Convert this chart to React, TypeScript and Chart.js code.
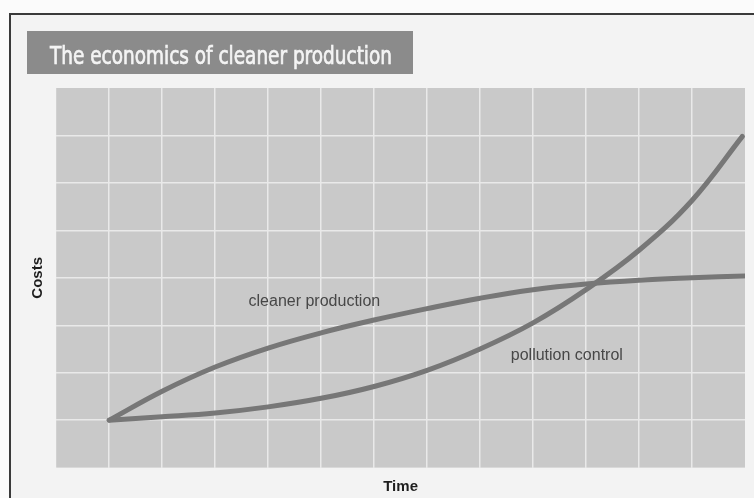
import React, { useEffect, useRef } from "react";
import { Chart, registerables } from "chart.js";

Chart.register(...registerables);

// ---- data ----
const chartTitle = "The economics of cleaner production";
const xAxisTitle = "Time";
const yAxisTitle = "Costs";
const seriesNames = ["cleaner production", "pollution control"];

const cleanerTimes = [1, 2, 3, 4, 5, 6, 7, 8, 9, 10, 11, 12, 13];
const cleanerCosts = [1, 1.61, 2.12, 2.52, 2.84, 3.11, 3.35, 3.57, 3.75, 3.87, 3.95, 4.0, 4.04];

const pollutionTimes = [1, 2, 3, 4, 5, 6, 7, 8, 9, 10, 11, 12, 12.95];
const pollutionCosts = [1, 1.07, 1.15, 1.28, 1.46, 1.71, 2.05, 2.5, 3.05, 3.75, 4.58, 5.63, 6.98];

const xTickValues = [0, 1, 2, 3, 4, 5, 6, 7, 8, 9, 10, 11, 12, 13];
const yTickValues = [0, 1, 2, 3, 4, 5, 6, 7, 8];

// label anchor points in data units
const cleanerLabelAt = { x: 3.63, y: 3.5 };
const pollutionLabelAt = { x: 8.58, y: 2.35 };

const LINE = "#777777";
const PLOT_BG = "#c9c9c9";
const GRID = "#e9e9e9";

const decorPlugin = {
  id: "decor",
  beforeDraw(chart: any) {
    const { ctx, chartArea, width, height } = chart;
    ctx.save();
    ctx.fillStyle = "#fbfbfb";
    ctx.fillRect(0, 0, width, height);
    ctx.fillStyle = "#f3f3f3";
    ctx.fillRect(10, 14, width - 10, height - 14);
    ctx.strokeStyle = "#3a3a3a";
    ctx.lineWidth = 2;
    ctx.beginPath();
    ctx.moveTo(10, height);
    ctx.lineTo(10, 14);
    ctx.lineTo(width, 14);
    ctx.stroke();

    // title box
    ctx.fillStyle = "#8b8b8b";
    ctx.fillRect(27, 31, 386, 43);
    ctx.fillStyle = "#f4f4f4";
    ctx.strokeStyle = "#f4f4f4";
    ctx.lineWidth = 0.7;
    ctx.font = "25px 'Liberation Sans Narrow', 'DejaVu Sans Condensed', 'Liberation Sans', Arial, sans-serif";
    ctx.textBaseline = "alphabetic";
    ctx.textAlign = "left";
    const w = ctx.measureText(chartTitle).width;
    const sx = 342 / w;
    ctx.translate(50, 64);
    ctx.scale(sx, 1);
    ctx.fillText(chartTitle, 0, 0);
    ctx.strokeText(chartTitle, 0, 0);
    ctx.restore();

    ctx.save();
    ctx.fillStyle = PLOT_BG;
    ctx.fillRect(chartArea.left, chartArea.top, chartArea.right - chartArea.left, chartArea.bottom - chartArea.top);
    ctx.restore();
  },
  afterDatasetsDraw(chart: any) {
    const { ctx, scales } = chart;
    ctx.save();
    ctx.fillStyle = "#474747";
    ctx.font = "16px 'Liberation Sans', Arial, sans-serif";
    ctx.textBaseline = "middle";
    ctx.textAlign = "left";
    ctx.fillText(seriesNames[0], scales.x.getPixelForValue(cleanerLabelAt.x), scales.y.getPixelForValue(cleanerLabelAt.y));
    ctx.fillText(seriesNames[1], scales.x.getPixelForValue(pollutionLabelAt.x), scales.y.getPixelForValue(pollutionLabelAt.y));
    ctx.restore();
  },
};

export default function App() {
  const ref = useRef<HTMLCanvasElement | null>(null);

  useEffect(() => {
    if (!ref.current) return;
    const interiorColor = (n: number) => (c: any) =>
      c.index === 0 || c.index === n - 1 ? "rgba(0,0,0,0)" : GRID;

    const lineStyle = {
      borderColor: LINE,
      borderWidth: 5,
      pointRadius: 0,
      tension: 0.4,
      borderCapStyle: "round",
      borderJoinStyle: "round",
      fill: false,
    };

    const chart = new Chart(ref.current, {
      type: "line",
      data: {
        datasets: [
          {
            label: seriesNames[0],
            data: cleanerTimes.map((t, i) => ({ x: t, y: cleanerCosts[i] })),
            ...lineStyle,
          },
          {
            label: seriesNames[1],
            data: pollutionTimes.map((t, i) => ({ x: t, y: pollutionCosts[i] })),
            ...lineStyle,
          },
        ],
      },
      options: {
        responsive: false,
        animation: false,
        layout: { padding: { left: 25, top: 88, right: 9, bottom: 0 } },
        plugins: {
          legend: { display: false },
          tooltip: { enabled: false },
          title: { display: false },
        },
        scales: {
          x: {
            type: "linear",
            min: xTickValues[0],
            max: xTickValues[xTickValues.length - 1],
            afterBuildTicks: (s: any) => {
              s.ticks = xTickValues.map((v) => ({ value: v }));
            },
            ticks: { display: false },
            grid: { color: interiorColor(xTickValues.length), lineWidth: 1.5, drawTicks: false },
            border: { display: false },
            title: {
              display: true,
              text: xAxisTitle,
              color: "#1e1e1e",
              font: { size: 15, weight: "bold", family: "'Liberation Sans', Arial, sans-serif" },
              padding: { top: 10.2, bottom: 2.2 },
            },
          },
          y: {
            type: "linear",
            min: yTickValues[0],
            max: yTickValues[yTickValues.length - 1],
            afterBuildTicks: (s: any) => {
              s.ticks = yTickValues.map((v) => ({ value: v }));
            },
            ticks: { display: false },
            grid: { color: interiorColor(yTickValues.length), lineWidth: 1.5, drawTicks: false },
            border: { display: false },
            title: {
              display: true,
              text: yAxisTitle,
              color: "#1e1e1e",
              font: { size: 15, weight: "bold", family: "'Liberation Sans', Arial, sans-serif" },
              padding: { top: 4, bottom: 9.2 },
            },
          },
        },
      },
      plugins: [decorPlugin],
    } as any);
    return () => chart.destroy();
  }, []);

  return (
    <div style={{ position: "fixed", left: 0, top: 0, width: 754, height: 498 }}>
      <canvas ref={ref} width={754} height={498} style={{ display: "block" }} />
    </div>
  );
}
